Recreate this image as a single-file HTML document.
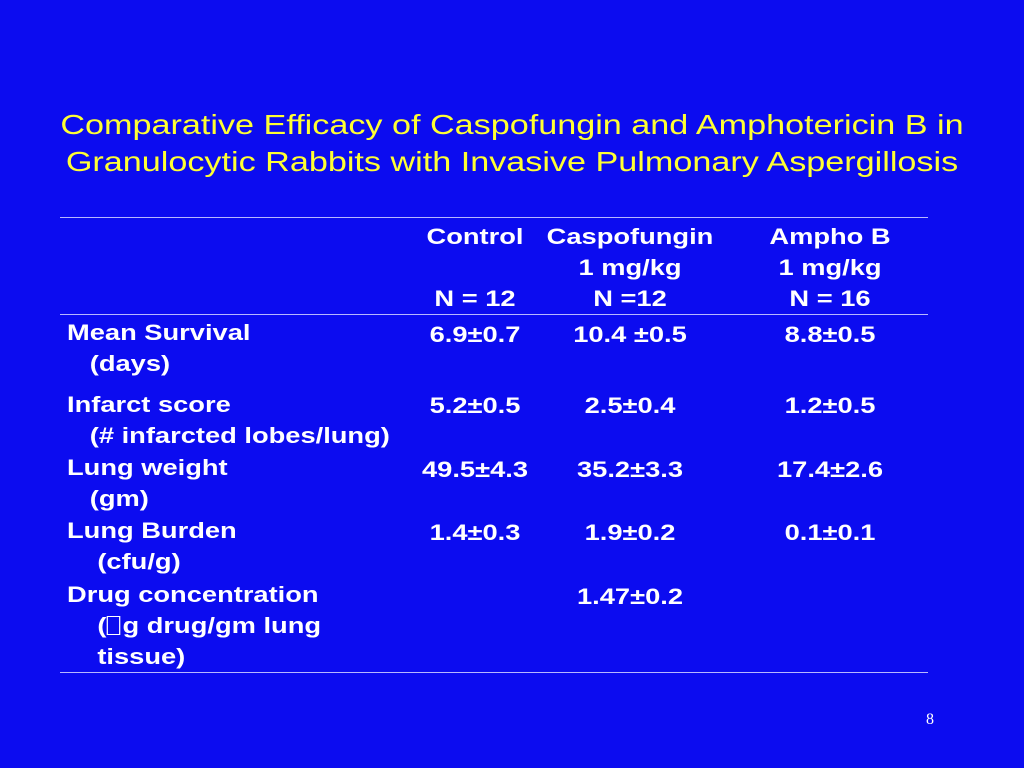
<!DOCTYPE html>
<html><head><meta charset="utf-8"><style>
body{margin:0;width:1024px;height:768px;background:#0c0cf0;overflow:hidden;position:relative;font-family:"Liberation Sans",Arial,sans-serif}
.t{position:absolute;left:0;width:1024px;text-align:center;color:#ffff33;font-family:"Liberation Sans",Arial,sans-serif;font-size:28px;line-height:37px;transform:scaleX(1.22);transform-origin:512px 0}
.c{position:absolute;color:#fff;font-family:"Liberation Sans",Arial,sans-serif;font-weight:bold;font-size:22px;white-space:nowrap;line-height:31px;transform:scaleX(1.24);transform-origin:0 0}
.ctr{transform:translateX(-50%) scaleX(1.24);transform-origin:50% 0;text-align:center}
.hr{position:absolute;left:60px;width:868px;height:1px;background:#b8b8ff}
.box{display:inline-block;width:9px;height:17px;border:1px solid #fff;vertical-align:-2px;margin-right:2px}
</style></head><body>
<div class="t" style="top:106px">Comparative Efficacy of Caspofungin and Amphotericin B in<br>Granulocytic Rabbits with Invasive Pulmonary Aspergillosis</div>
<div class="hr" style="top:217px"></div>
<div class="hr" style="top:314px"></div>
<div class="hr" style="top:672px"></div>

<div class="c ctr" style="left:475px;top:221px">Control<br>&nbsp;<br>N = 12</div>
<div class="c ctr" style="left:630px;top:221px">Caspofungin<br>1 mg/kg<br>N =12</div>
<div class="c ctr" style="left:830px;top:221px">Ampho B<br>1 mg/kg<br>N = 16</div>

<div class="c" style="left:67px;top:317px">Mean Survival<br>&nbsp;&nbsp;&nbsp;(days)</div>
<div class="c" style="left:67px;top:389px">Infarct score<br>&nbsp;&nbsp;&nbsp;(# infarcted lobes/lung)</div>
<div class="c" style="left:67px;top:452px">Lung weight<br>&nbsp;&nbsp;&nbsp;(gm)</div>
<div class="c" style="left:67px;top:515px">Lung Burden<br>&nbsp;&nbsp;&nbsp;&nbsp;(cfu/g)</div>
<div class="c" style="left:67px;top:579px">Drug concentration<br>&nbsp;&nbsp;&nbsp;&nbsp;(<span class="box"></span>g drug/gm lung<br>&nbsp;&nbsp;&nbsp;&nbsp;tissue)</div>

<div class="c ctr" style="left:475px;top:319px">6.9±0.7</div>
<div class="c ctr" style="left:630px;top:319px">10.4 ±0.5</div>
<div class="c ctr" style="left:830px;top:319px">8.8±0.5</div>
<div class="c ctr" style="left:475px;top:390px">5.2±0.5</div>
<div class="c ctr" style="left:630px;top:390px">2.5±0.4</div>
<div class="c ctr" style="left:830px;top:390px">1.2±0.5</div>
<div class="c ctr" style="left:475px;top:454px">49.5±4.3</div>
<div class="c ctr" style="left:630px;top:454px">35.2±3.3</div>
<div class="c ctr" style="left:830px;top:454px">17.4±2.6</div>
<div class="c ctr" style="left:475px;top:517px">1.4±0.3</div>
<div class="c ctr" style="left:630px;top:517px">1.9±0.2</div>
<div class="c ctr" style="left:830px;top:517px">0.1±0.1</div>
<div class="c ctr" style="left:630px;top:581px">1.47±0.2</div>

<div style="position:absolute;left:926px;top:711px;color:#fff;font-family:'Liberation Serif',serif;font-size:16px">8</div>
</body></html>
